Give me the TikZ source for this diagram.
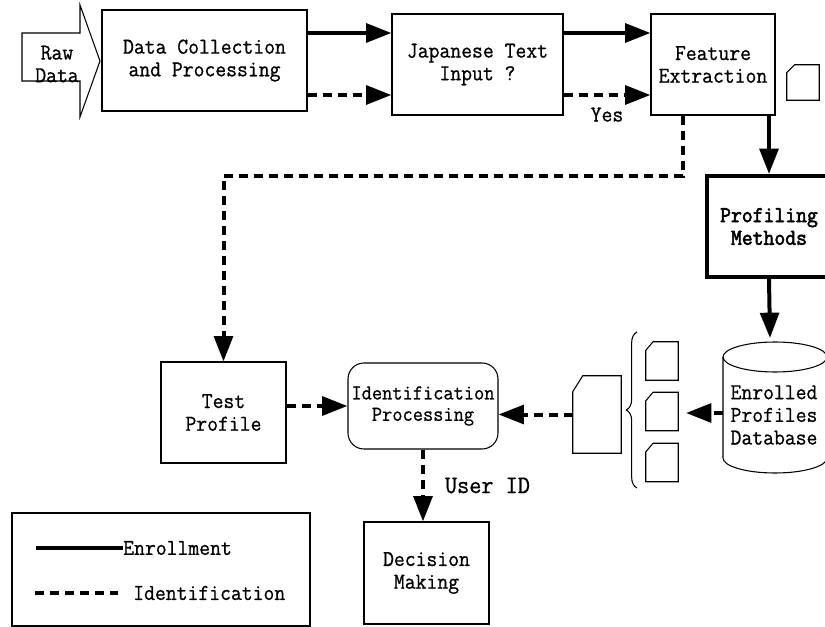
\documentclass[tikz,border=0pt]{standalone}
\usepackage{fontspec}
\setmonofont{Latin Modern Mono}[FakeStretch=0.93, FakeBold=0.8]
\newfontfamily\pmfont{Latin Modern Mono}[FakeStretch=0.93, FakeBold=2.5]
\usetikzlibrary{arrows.meta,decorations.pathreplacing}
\newcommand{\docshape}[3]{\draw[thinline] ([yshift=-#3]#1.north west) -- ([xshift=#2]#1.north west) -- (#1.north east) -- (#1.south east) -- (#1.south west) -- cycle;}
\tikzset{
	thinline/.style={line width=0.8pt},
	box/.style={draw, thinline, inner sep=0pt, align=center},
	doc/.style={inner sep=0pt},
	txt/.style={inner sep=0pt, align=center},
	enline/.style={line width=3pt},
	idline/.style={line width=3pt, dash pattern=on 6.75pt off 4.5pt},
	tip/.style={-{Triangle[length=19pt,width=14pt]}}
}
\begin{document}
\begin{tikzpicture}[x=0.75pt, y=-0.75pt, font=\ttfamily\fontsize{17pt}{17pt}\selectfont]
	\useasboundingbox (0,0) rectangle (825,627);
	\draw[thinline] (22,33) -- (80,33) -- (80,5) -- (100,61) -- (80,117) -- (80,81) -- (22,81) -- cycle;
	\node[txt] (raw) at (57,64) {Raw\\Data};
	\node[box, minimum width=153.75pt, minimum height=75.75pt] (dc) at (204.5,60.5) {Data Collection\\and Processing};
	\node[box, minimum width=128.25pt, minimum height=75.75pt] (jt) at (477.5,64.5) {Japanese Text\\Input ?};
	\node[box, minimum width=93pt, minimum height=75.75pt] (fe) at (713,64.5) {Feature\\Extraction};
	\node[doc, minimum width=24pt, minimum height=26.25pt] (td) at (803,82.5) {};
	\docshape{td}{6pt}{6pt}
	\node[box, line width=3pt, minimum width=93pt, minimum height=75.75pt, font=\pmfont\fontsize{17pt}{17pt}\selectfont] (pm) at (769,226.5) {Profiling\\Methods};
	\draw[thinline] (723,357) -- (723,458) arc[start angle=180, end angle=360, x radius=39pt, y radius=11.25pt] -- (827,357);
	\draw[thinline] (775,357) ellipse[x radius=39pt, y radius=11.25pt];
	\node[txt] (db) at (774,415) {Enrolled\\Profiles\\Database};
	\coordinate (dbtop) at (770,338);
	\coordinate (dbw) at (723,413);
	\coordinate (dbtip) at (686,413);
	\foreach \n/\y in {1/361,2/411.5,3/462.5}{
		\node[doc, minimum width=24pt, minimum height=28.5pt] (sd\n) at (662,\y) {};
		\docshape{sd\n}{5.5pt}{6.5pt}
	}
	\draw[thinline, decorate, decoration={brace, amplitude=8pt}] (637,488) -- (637,332);
	\node[doc, minimum width=36pt, minimum height=57.75pt] (bd) at (597,414.5) {};
	\docshape{bd}{7.5pt}{12pt}
	\node[box, minimum width=93.75pt, minimum height=75.75pt] (tp) at (223.5,412.5) {Test\\Profile};
	\node[box, rounded corners=12pt, minimum width=112.5pt, minimum height=64.5pt, font=\ttfamily\fontsize{16pt}{16pt}\selectfont] (ip) at (423,406) {Identification\\Processing};
	\node[box, minimum width=93.75pt, minimum height=76.5pt] (dm) at (426.5,573) {Decision\\Making};
	\coordinate (rowA) at (0,33);
	\coordinate (rowB) at (0,95);
	\coordinate (split) at (683,176);
	\draw[enline, tip] (dc.east |- rowA) -- (jt.west |- rowA);
	\draw[idline, tip] (dc.east |- rowB) -- (jt.west |- rowB);
	\draw[enline, tip] (jt.east |- rowA) -- (fe.west |- rowA);
	\draw[idline, tip] (jt.east |- rowB) -- node[txt, below=8pt] {Yes} (fe.west |- rowB);
	\draw[enline, tip] (fe.south -| pm.north) -- (pm.north);
	\draw[enline, tip] (pm.south) -- (dbtop);
	\draw[idline, tip] (fe.south -| split) -- (split) -| (tp.north);
	\draw[idline, tip] (dbw) -- (dbtip);
	\draw[idline, tip] (bd.west) -- (ip.east |- bd.west);
	\draw[idline, tip] (tp.east |- ip.west) -- (ip.west);
	\draw[idline, tip] (ip.south) -- node[txt, right=15pt, font=\ttfamily\fontsize{19pt}{19pt}\selectfont] {User ID} (ip.south |- dm.north);
	\draw[thinline] (12,513) rectangle (310,626);
	\node[txt, anchor=west] (legEnr) at (123,548) {Enrollment};
	\node[txt, anchor=west] (legId) at (133,593) {Identification};
	\coordinate (legA) at (36,548);
	\coordinate (legB) at (35,593);
	\draw[enline] (legA) -- (legEnr.west);
	\draw[idline] (legB) -- ([xshift=-11pt]legId.west);
\end{tikzpicture}
\end{document}
